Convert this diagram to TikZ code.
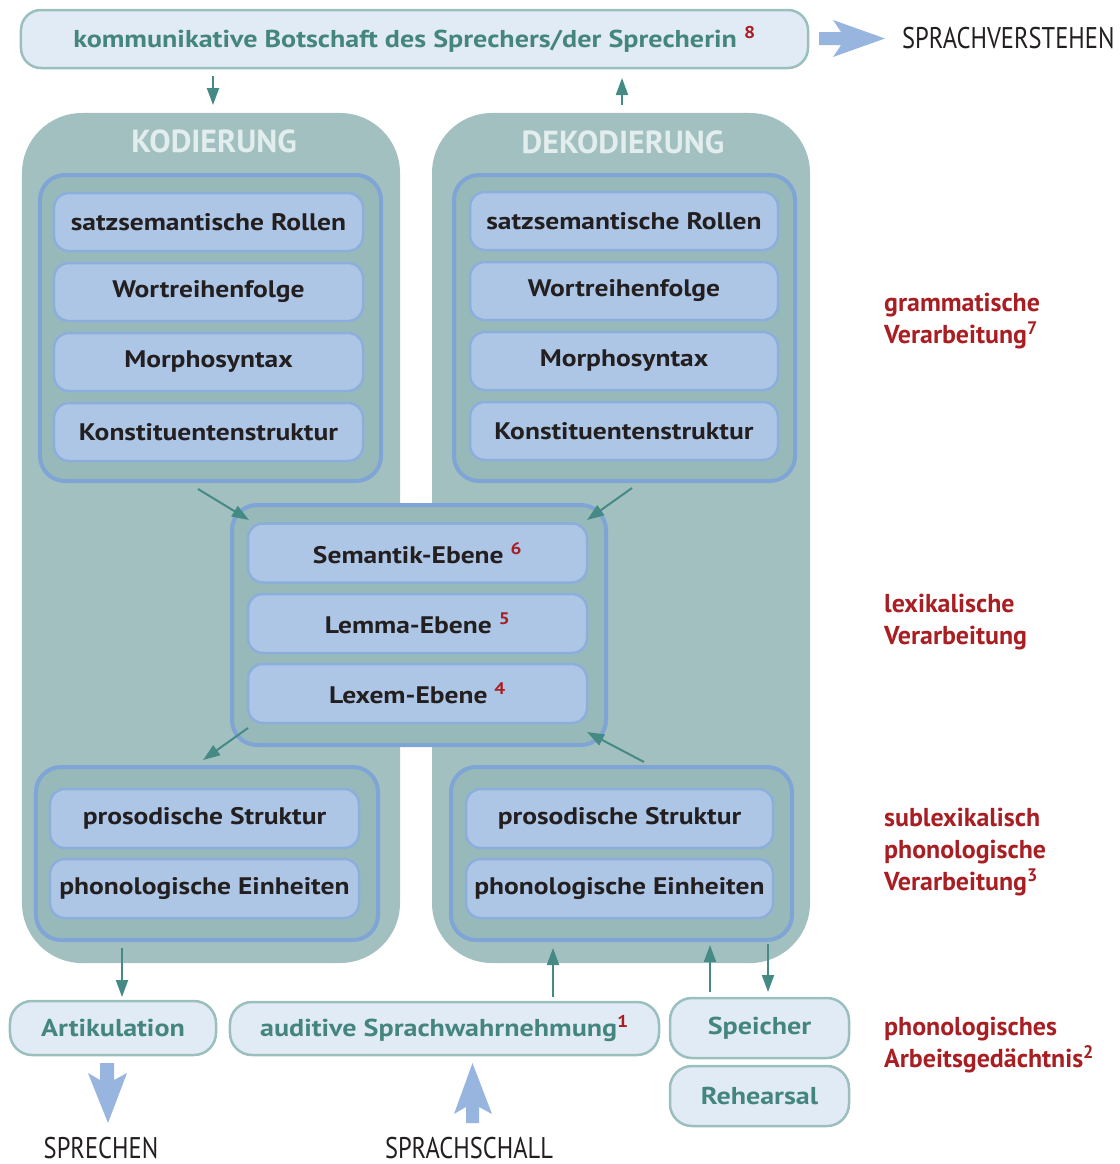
\documentclass[tikz,border=0pt]{standalone}
\usepackage{fontspec}
\setmainfont{PT Sans}
\newfontfamily\condfont[FakeStretch=0.82]{PT Sans}
\newfontfamily\widefont[FakeStretch=1.15]{PT Sans}
\usetikzlibrary{arrows.meta}
\definecolor{panelc}{HTML}{A3C0C1}
\definecolor{groupfill}{HTML}{97B9BA}
\definecolor{groupline}{HTML}{7FA4D6}
\definecolor{innerfill}{HTML}{ADC6E6}
\definecolor{innerline}{HTML}{8CAEDD}
\definecolor{lightfill}{HTML}{E1EBF5}
\definecolor{lightline}{HTML}{9BBFBD}
\definecolor{tealtext}{HTML}{45857F}
\definecolor{tealarrow}{HTML}{468A85}
\definecolor{redlab}{HTML}{A81E22}
\definecolor{bigarrow}{HTML}{98B5DF}
\definecolor{titlec}{HTML}{E2EDED}
\definecolor{darktext}{HTML}{231F20}
\newcommand\rsup[1]{{\color{redlab}\textsuperscript{#1}}}
\begin{document}
\begin{tikzpicture}[x=1bp,y=-1bp,
  panelbox/.style={fill=panelc, rounded corners=60bp, inner sep=0pt},
  groupbox/.style={draw=groupline, line width=4bp, fill=groupfill, rounded corners=25bp, inner sep=0pt},
  innerbox/.style={draw=innerline, line width=2.5bp, fill=innerfill, rounded corners=15bp, inner sep=0pt,
     text=darktext, font=\fontsize{24}{28}\selectfont\widefont\bfseries},
  lightbox/.style={draw=lightline, line width=2.5bp, fill=lightfill, rounded corners=22bp, inner sep=0pt,
     text=tealtext, font=\fontsize{24.5}{28}\selectfont\widefont\bfseries},
  titletext/.style={text=titlec, font=\fontsize{32}{36}\selectfont\bfseries, inner sep=0pt},
  redtext/.style={anchor=base west, text=redlab, font=\fontsize{26}{30}\selectfont\bfseries, inner sep=0pt},
  outtext/.style={text=darktext, font=\fontsize{30}{32}\selectfont\condfont, inner sep=0pt},
  tarrow/.style={draw=tealarrow, line width=2bp, -{Triangle[length=17bp,width=12bp]}},
  bigarr/.style={fill=bigarrow}
]
\useasboundingbox (0,0) rectangle (1120,1164);

% panels
\node[panelbox, minimum width=378bp, minimum height=850bp] (kod) at (211,538) {};
\node[panelbox, minimum width=378bp, minimum height=850bp] (dekod) at (621,538) {};
\fill[panelc] (396,504) rectangle (436,746);
\node[titletext] (kodt) at (214,141) {KODIERUNG};
\node[titletext] (dekodt) at (623,142) {DEKODIERUNG};

% top message
\node[lightbox, rounded corners=20bp, minimum width=787bp, minimum height=58bp] (msg) at (414.5,39)
  {kommunikative Botschaft des Sprechers/der Sprecherin \rsup{8}};

% grammar groups
\node[groupbox, minimum width=341bp, minimum height=306bp] (gL) at (210.5,328) {};
\node[groupbox, minimum width=341bp, minimum height=306bp] (gR) at (624.5,328) {};
\foreach \y/\t/\n in {222/satzsemantische Rollen/1, 292/Wortreihenfolge/2, 362/Morphosyntax/3, 432/Konstituentenstruktur/4}{
  \node[innerbox, minimum width=309bp, minimum height=58bp] (kL\n) at (208.5,\y) {\t};
  \node[innerbox, minimum width=308bp, minimum height=58bp] (kR\n) at (624,\y-1) {\t};
}

% lexical group
\node[groupbox, minimum width=374bp, minimum height=240bp] (gM) at (419,625) {};
\node[innerbox, minimum width=339bp, minimum height=59bp] (sem) at (417.5,553) {Semantik-Ebene \rsup{6}};
\node[innerbox, minimum width=339bp, minimum height=59bp] (lem) at (417.5,623.5) {Lemma-Ebene \rsup{5}};
\node[innerbox, minimum width=339bp, minimum height=59bp] (lex) at (417.5,693.5) {Lexem-Ebene \rsup{4}};

% sublexical groups
\node[groupbox, minimum width=342bp, minimum height=173bp] (pL) at (207,853.5) {};
\node[groupbox, minimum width=341bp, minimum height=173bp] (pR) at (621.5,853.5) {};
\node[innerbox, minimum width=309bp, minimum height=59bp] (prL) at (204.5,818.5) {prosodische Struktur};
\node[innerbox, minimum width=309bp, minimum height=59bp] (phL) at (204.5,888.5) {phonologische Einheiten};
\node[innerbox, minimum width=307bp, minimum height=59bp] (prR) at (619.5,818.5) {prosodische Struktur};
\node[innerbox, minimum width=307bp, minimum height=59bp] (phR) at (619.5,888.5) {phonologische Einheiten};

% bottom boxes
\node[lightbox, minimum width=206bp, minimum height=54bp] (art) at (113,1028) {Artikulation};
\node[lightbox, minimum width=429bp, minimum height=53bp] (aud) at (444.5,1028.5) {auditive Sprachwahrnehmung\rsup{1}};
\node[lightbox, minimum width=179bp, minimum height=60bp] (spe) at (759.5,1028) {Speicher};
\node[lightbox, minimum width=179bp, minimum height=60bp] (reh) at (759.5,1096) {Rehearsal};

% outside texts
\node[outtext, anchor=base west] (verst) at (902,48.5) {SPRACHVERSTEHEN};
\node[outtext, anchor=base] (sprech) at (101,1158) {SPRECHEN};
\node[outtext, anchor=base] (schall) at (469,1158) {SPRACHSCHALL};

% red labels
\node[redtext] (r1a) at (884,311) {grammatische};
\node[redtext] (r1b) at (884,343) {Verarbeitung\rsup{7}};
\node[redtext] (r2a) at (884,612) {lexikalische};
\node[redtext] (r2b) at (884,644) {Verarbeitung};
\node[redtext] (r3a) at (884,826) {sublexikalisch};
\node[redtext] (r3b) at (884,858) {phonologische};
\node[redtext] (r3c) at (884,890) {Verarbeitung\rsup{3}};
\node[redtext] (r4a) at (884,1035) {phonologisches};
\node[redtext] (r4b) at (884,1067) {Arbeitsgedächtnis\rsup{2}};

% teal arrows
\coordinate (c1a) at (213,76);  \coordinate (c1b) at (213,105);
\coordinate (c2a) at (622,105); \coordinate (c2b) at (622,78);
\coordinate (c3a) at (198,489); \coordinate (c3b) at (249,520);
\coordinate (c4a) at (632,488); \coordinate (c4b) at (587,520);
\coordinate (c5a) at (248,728); \coordinate (c5b) at (203,760);
\coordinate (c6a) at (644,762); \coordinate (c6b) at (587,732);
\coordinate (c7a) at (122,948); \coordinate (c7b) at (122,997);
\coordinate (c8a) at (553,997); \coordinate (c8b) at (553,948);
\coordinate (c9a) at (710,992); \coordinate (c9b) at (710,945);
\coordinate (c10a) at (768,944); \coordinate (c10b) at (768,992);
\draw[tarrow] (c1a) -- (c1b);
\draw[tarrow] (c2a) -- (c2b);
\draw[tarrow] (c3a) -- (c3b);
\draw[tarrow] (c4a) -- (c4b);
\draw[tarrow] (c5a) -- (c5b);
\draw[tarrow] (c6a) -- (c6b);
\draw[tarrow] (c7a) -- (c7b);
\draw[tarrow] (c8a) -- (c8b);
\draw[tarrow] (c9a) -- (c9b);
\draw[tarrow] (c10a) -- (c10b);

% big blue arrows
\fill[bigarr] (819,32) -- (841,32) -- (833,20) -- (885,38.5) -- (833,57) -- (841,45) -- (819,45) -- cycle;
\fill[bigarr] (100,1063) -- (114,1063) -- (114,1080) -- (127,1073) -- (108,1123) -- (88,1073) -- (100,1080) -- cycle;
\fill[bigarr] (466,1123) -- (479,1123) -- (479,1107) -- (492,1114) -- (472.5,1063) -- (454,1114) -- (466,1107) -- cycle;
\end{tikzpicture}
\end{document}
